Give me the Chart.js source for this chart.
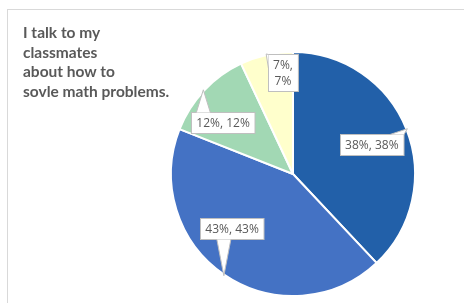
<!DOCTYPE html>
<html>
<head>
<meta charset="utf-8">
<script src="https://cdn.jsdelivr.net/npm/chart.js@4"></script>
<style>
  html, body { margin: 0; padding: 0; background: #fff; overflow: hidden; }
  #wrap { position: relative; width: 464px; height: 303px; }
  #frame { position: absolute; left: 7px; top: 9px; width: 600px; height: 400px; border: 1px solid #d9d9d9; }
  #title { position: absolute; left: 23px; top: 23px; font: bold 15.5px Lato, sans-serif; line-height: 19.5px; color: #595959; }
  canvas { position: absolute; left: 0; top: 0; }
</style>
</head>
<body>
<div id="wrap">
  <div id="frame"></div>
  <canvas id="pieChart" width="464" height="303"></canvas>
  <div id="title"></div>
</div>
<script>
// Data
const titleLines = ['I talk to my', 'classmates', 'about how to', 'sovle math problems.'];
const categories = ['A', 'B', 'C', 'D'];
const values = [38, 43, 12, 7];
const labelTexts = [['38%, 38%'], ['43%, 43%'], ['12%, 12%'], ['7%,', '7%']];
const sliceColors = ['#2260a9', '#4472c4', '#a2d8b4', '#ffffcc'];

// Callout placement: [angle shift in degrees, distance as fraction of radius]
const calloutLayout = [[1, 0.69], [14, 0.67], [-7, 0.71], [7, 0.84]];

document.getElementById('title').innerHTML = titleLines.join('<br>');

const ctx = document.getElementById('pieChart').getContext('2d');

const calloutPlugin = {
  id: 'callouts',
  afterDatasetsDraw: (chart) => {
    const {ctx} = chart;
    const arcs = chart.getDatasetMeta(0).data;
    ctx.save();
    ctx.font = '12px "Open Sans", sans-serif';
    ctx.textAlign = 'center';
    ctx.textBaseline = 'middle';
    arcs.forEach((arc, i) => {
      const {x, y, startAngle, endAngle, outerRadius} = arc.getProps(['x', 'y', 'startAngle', 'endAngle', 'outerRadius'], true);
      const mid = (startAngle + endAngle) / 2;
      const [shift, frac] = calloutLayout[i];
      const a = mid + shift * Math.PI / 180;
      const cx = x + Math.cos(a) * outerRadius * frac;
      const cy = y + Math.sin(a) * outerRadius * frac;
      // tip sits on the outer edge at the middle of the slice
      const tx = x + Math.cos(mid) * (outerRadius + 1);
      const ty = y + Math.sin(mid) * (outerRadius + 1);

      const lines = labelTexts[i];
      const lh = 16;
      const w = Math.max(...lines.map(l => ctx.measureText(l).width)) + 10;
      const h = lines.length * lh + 5;
      const l = Math.round(cx - w / 2) + 0.5, t = Math.round(cy - h / 2) + 0.5;
      const r = l + w, b = t + h;

      // pick which box side the pointer leaves from
      const over = {top: t - ty, bottom: ty - b, left: l - tx, right: tx - r};
      const side = Object.keys(over).reduce((m, k) => over[k] > over[m] ? k : m, 'top');

      let p1, p2;
      const bw = 7;
      if (side === 'top' || side === 'bottom') {
        const ey = side === 'top' ? t : b;
        const px = Math.min(Math.max(tx, l + bw), r - bw);
        p1 = [px - bw, ey]; p2 = [px + bw, ey];
      } else {
        const ex = side === 'left' ? l : r;
        const py = Math.min(Math.max(ty, t + bw), b - bw);
        p1 = [ex, py - bw]; p2 = [ex, py + bw];
      }

      ctx.fillStyle = '#ffffff';
      ctx.strokeStyle = '#bfbfbf';
      ctx.lineWidth = 1;
      ctx.fillRect(l, t, w, h);
      ctx.strokeRect(l, t, w, h);

      // pointer, covering the box border at its base
      ctx.beginPath();
      ctx.moveTo(p1[0], p1[1]);
      ctx.lineTo(tx, ty);
      ctx.lineTo(p2[0], p2[1]);
      ctx.closePath();
      ctx.fill();
      ctx.beginPath();
      ctx.moveTo(p1[0], p1[1]);
      ctx.lineTo(tx, ty);
      ctx.lineTo(p2[0], p2[1]);
      ctx.stroke();

      ctx.fillStyle = '#595959';
      lines.forEach((line, k) => {
        ctx.fillText(line, cx, t + 3 + lh / 2 + k * lh);
      });
    });
    ctx.restore();
  }
};

new Chart(ctx, {
  type: 'pie',
  data: {
    labels: categories,
    datasets: [{
      data: values,
      backgroundColor: sliceColors,
      borderColor: '#ffffff',
      borderWidth: 2
    }]
  },
  options: {
    responsive: false,
    animation: false,
    layout: { padding: { left: 122, top: 51, bottom: 6, right: 0 } },
    plugins: {
      legend: { display: false },
      tooltip: { enabled: false }
    }
  },
  plugins: [calloutPlugin]
});
</script>
</body>
</html>
